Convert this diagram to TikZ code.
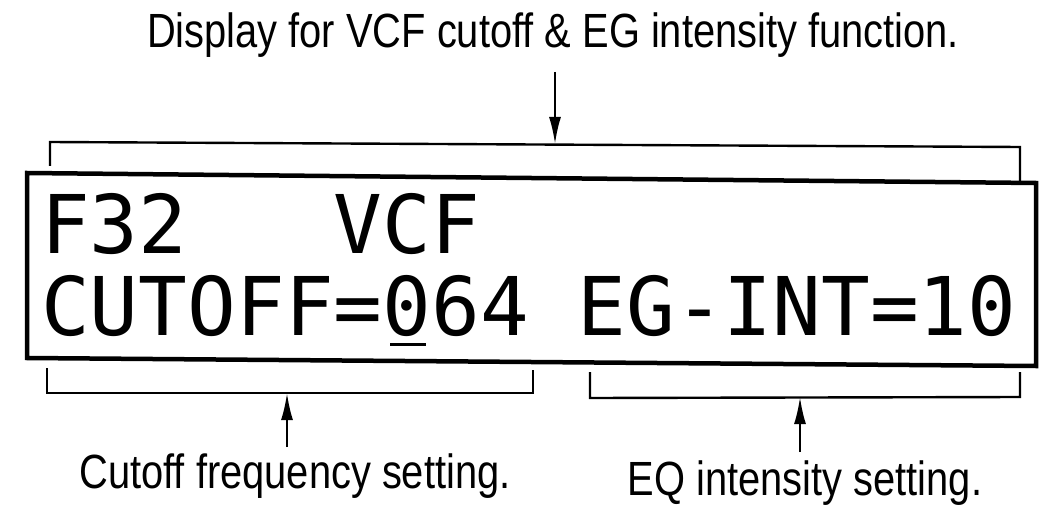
\documentclass[tikz,border=0pt]{standalone}
\usepackage{fontspec}
\newfontfamily\lblfont[FakeStretch=0.83]{Liberation Sans}
\newfontfamily\lcdfont{DejaVu Sans Mono}
\usetikzlibrary{arrows.meta}
\begin{document}
\begin{tikzpicture}[x=1pt,y=-1pt,
  lbl/.style={font=\lblfont\fontsize{48}{56}\selectfont, inner sep=0pt, anchor=base},
  lcd/.style={font=\lcdfont\fontsize{81}{90}\selectfont, inner sep=0pt, anchor=base west},
  brk/.style={line width=2.4pt, line join=miter},
  frame/.style={line width=4.5pt, line join=miter},
  arr/.style={line width=2.2pt, -{Latex[length=27pt,width=12pt]}}]
\useasboundingbox[fill=white] (0,0) rectangle (1040,505);
% texts
\node[lbl] (title) at (553,48) {Display for VCF cutoff \& EG intensity function.};
\node[lbl] (lab1) at (295,488) {Cutoff frequency setting.};
\node[lbl] (lab2) at (805,495) {EQ intensity setting.};
\node[lcd] (line1) at (41,253) {F32\ \ \ VCF};
\node[lcd] (line2) at (41,335) {CUTOFF=064 EG-INT=10};
% cursor under 0
\draw[line width=3pt] (390,344) -- (426,344);
% display frame
\draw[frame] (27,173) -- (1036,183) -- (1036,366) -- (27,358) -- cycle;
% brackets
\draw[brk] (50,166) -- (50,142) -- (1020,147) -- (1020,181);
\draw[brk] (47,368) -- (47,393) -- (533,393) -- (533,370);
\draw[brk] (590,372) -- (590,398) -- (1020,397) -- (1020,372);
% arrow end points
\coordinate (ttail) at (555,72);
\coordinate (ttip) at (555,144);
\coordinate (ltail) at (287,447);
\coordinate (ltip) at (287,393);
\coordinate (rtail) at (800,452);
\coordinate (rtip) at (800,397);
\draw[arr] (ttail) -- (ttip);
\draw[arr] (ltail) -- (ltip);
\draw[arr] (rtail) -- (rtip);
\end{tikzpicture}
\end{document}
